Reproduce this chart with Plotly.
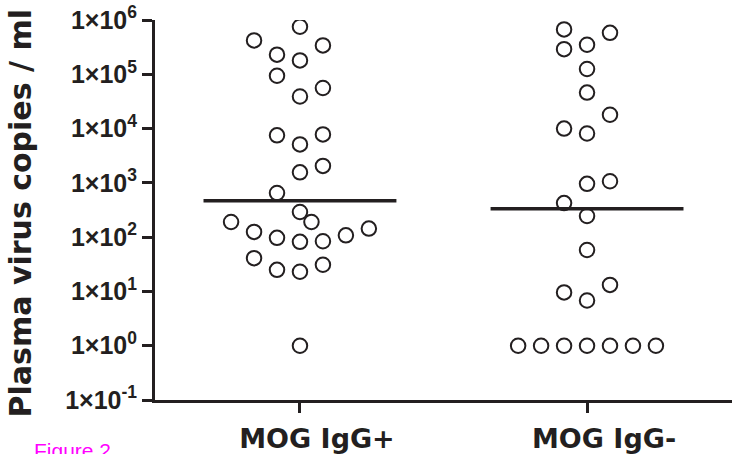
import plotly.graph_objects as go

# ---------------- data ----------------
groups = ["MOG IgG+", "MOG IgG-"]

igg_pos_values = [7.5e5, 4.2e5, 3.4e5, 2.3e5, 1.8e5, 9.4e4, 5.6e4, 3.9e4,
                  7.5e3, 7.8e3, 5.1e3, 1.56e3, 2.05e3, 650, 290, 190, 190,
                  144, 125, 108, 97, 82, 84, 41, 25, 23, 31, 1]
igg_pos_slots = [0, -2, 1, -1, 0, -1, 1, 0,
                 -1, 1, 0, 0, 1, -1, 0, 0.5, -3,
                 3, -2, 2, -1, 0, 1, -2, -1, 0, 1, 0]

igg_neg_values = [6.7e5, 5.8e5, 3.5e5, 2.9e5, 1.25e5, 4.6e4, 1.8e4, 1.0e4,
                  8.1e3, 960, 1070, 424, 245, 58, 9.6, 13.2, 6.8,
                  1, 1, 1, 1, 1, 1, 1]
igg_neg_slots = [-1, 1, 0, -1, 0, 0, 1, -1,
                 0, 0, 1, -1, 0, 0, -1, 1, 0,
                 -3, -2, -1, 0, 1, 2, 3]

medians = [470, 335]

tick_vals = [0.1, 1, 10, 100, 1e3, 1e4, 1e5, 1e6]
tick_text = ["1×10<sup>-1</sup>", "1×10<sup>0</sup>", "1×10<sup>1</sup>",
             "1×10<sup>2</sup>", "1×10<sup>3</sup>", "1×10<sup>4</sup>",
             "1×10<sup>5</sup>", "1×10<sup>6</sup>"]

y_title = "Plasma virus copies / ml"
fig_label = "Figure 2"

# ---------------- styling ----------------
INK = "#231f20"
SLOT = 0.080
HALF_LINE = 0.336

fig = go.Figure()

for gi, (vals, slots) in enumerate([(igg_pos_values, igg_pos_slots),
                                    (igg_neg_values, igg_neg_slots)]):
    fig.add_trace(go.Scatter(
        x=[gi + s * SLOT for s in slots], y=vals, mode="markers",
        marker=dict(symbol="circle", size=14.5, color="white",
                    line=dict(color=INK, width=2)),
        showlegend=False, hoverinfo="skip"))

for gi, m in enumerate(medians):
    fig.add_trace(go.Scatter(
        x=[gi - HALF_LINE, gi + HALF_LINE], y=[m, m], mode="lines",
        line=dict(color=INK, width=3.5), showlegend=False, hoverinfo="skip"))

fig.update_layout(
    width=732, height=454,
    margin=dict(l=155, r=0, t=20, b=51),
    paper_bgcolor="white", plot_bgcolor="white",
    showlegend=False,
    xaxis=dict(
        range=[-0.505, 1.505], tickmode="array", tickvals=[0, 1], ticktext=groups,
        showline=True, linewidth=3, linecolor=INK, mirror=False,
        ticks="outside", ticklen=10, tickwidth=3, tickcolor=INK,
        showgrid=False, zeroline=False,
        tickfont=dict(family="DejaVu Sans", size=27, color=INK, weight="bold"),
        ticklabelshift=17, ticklabelstandoff=3,
    ),
    yaxis=dict(
        type="log", range=[-1, 6], tickmode="array",
        tickvals=tick_vals, ticktext=tick_text,
        showline=True, linewidth=3, linecolor=INK,
        ticks="outside", ticklen=10, tickwidth=3, tickcolor=INK,
        showgrid=False, zeroline=False,
        tickfont=dict(family="Liberation Sans", size=25, color=INK, weight="bold"),
    ),
    annotations=[
        dict(text=y_title, xref="paper", yref="paper", x=-0.234, y=0.491,
             xanchor="center", yanchor="middle", textangle=-90, showarrow=False,
             font=dict(family="DejaVu Sans", size=30, color=INK, weight="bold")),
        dict(text=fig_label, xref="paper", yref="paper", x=-0.213, y=-0.0966,
             xanchor="left", yanchor="top", showarrow=False,
             font=dict(family="Liberation Sans", size=21, color="#ff00ff")),
    ],
)

fig.write_html("out.html")
